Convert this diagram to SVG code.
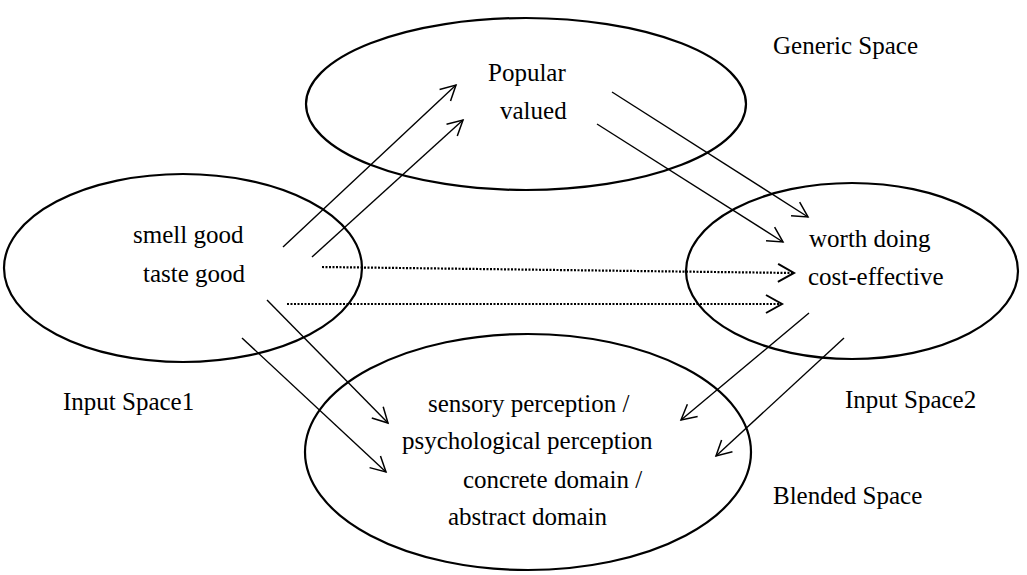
<svg xmlns="http://www.w3.org/2000/svg" width="1027" height="575" viewBox="0 0 1027 575">
<style>
.sp{fill:none;stroke:#000;stroke-width:2.2}
.t{font-family:"Liberation Serif","Times New Roman",serif;font-size:25px;fill:#000}
.a{fill:none;stroke:#000;stroke-width:1.4;marker-end:url(#v)}
.d{fill:none;stroke:#000;stroke-width:2.2;stroke-dasharray:2 1.5;marker-end:url(#vd)}
</style>
<defs>
<marker id="v" markerUnits="userSpaceOnUse" markerWidth="20" markerHeight="20" viewBox="-16 -10 20 20" refX="0" refY="0" orient="auto">
<path d="M-15,-8 L0,0 L-15,8" fill="none" stroke="#000" stroke-width="1.5"/>
</marker>
<marker id="vd" markerUnits="userSpaceOnUse" markerWidth="22" markerHeight="22" viewBox="-18 -11 22 22" refX="0" refY="0" orient="auto">
<path d="M-16,-9 L0,0 L-16,9" fill="none" stroke="#000" stroke-width="2"/>
</marker>
</defs>
<rect width="1027" height="575" fill="#fff"/>
<g id="generic">
<ellipse class="sp" cx="526" cy="104" rx="220" ry="86"/>
<text class="t" x="488" y="81">Popular</text>
<text class="t" x="500" y="119">valued</text>
<text class="t" x="773" y="54">Generic Space</text>
</g>
<g id="input1">
<ellipse class="sp" cx="183" cy="268" rx="179" ry="94"/>
<text class="t" x="133" y="243">smell good</text>
<text class="t" x="143" y="282">taste good</text>
<text class="t" x="63" y="410">Input Space1</text>
</g>
<g id="input2">
<ellipse class="sp" cx="852" cy="271" rx="166" ry="88"/>
<text class="t" x="809" y="247">worth doing</text>
<text class="t" x="808" y="285">cost-effective</text>
<text class="t" x="845" y="408">Input Space2</text>
</g>
<g id="blended">
<ellipse class="sp" cx="528" cy="452" rx="223" ry="118"/>
<text class="t" x="428" y="412">sensory perception /</text>
<text class="t" x="402" y="449">psychological perception</text>
<text class="t" x="463" y="488">concrete domain /</text>
<text class="t" x="448" y="525">abstract domain</text>
<text class="t" x="773" y="504">Blended Space</text>
</g>
<g id="connectors">
<line class="a" x1="283" y1="247" x2="456" y2="85"/>
<line class="a" x1="312" y1="257" x2="463" y2="120"/>
<line class="a" x1="612" y1="92" x2="808" y2="217"/>
<line class="a" x1="597" y1="124" x2="783" y2="242"/>
<line class="d" x1="322" y1="267" x2="794" y2="273"/>
<line class="d" x1="287" y1="304" x2="782" y2="304"/>
<line class="a" x1="267" y1="300" x2="388" y2="423"/>
<line class="a" x1="242" y1="338" x2="386" y2="472"/>
<line class="a" x1="809" y1="313" x2="681" y2="420"/>
<line class="a" x1="844" y1="338" x2="716" y2="456"/>
</g>
</svg>
